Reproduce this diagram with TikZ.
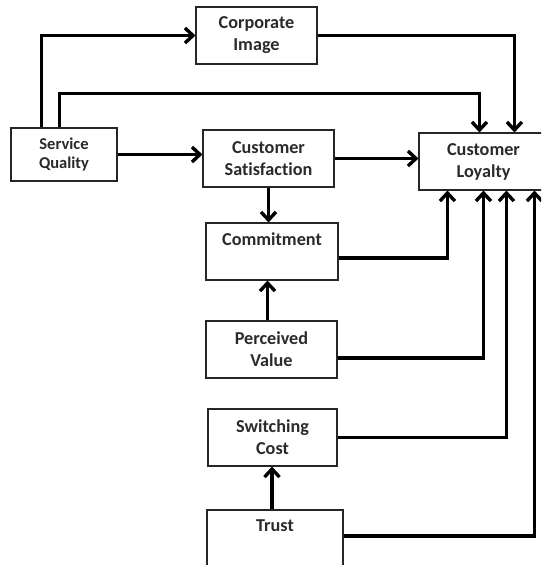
\documentclass[tikz,border=0pt]{standalone}
\usepackage{fontspec}
\setmainfont{Carlito}[Ligatures={NoCommon,NoRare,NoContextual}]
\usetikzlibrary{arrows.meta}
\definecolor{txt}{HTML}{2A2A2A}
\begin{document}
\begin{tikzpicture}[x=1pt,y=-1pt,
  box/.style={draw=black!85,line width=1.1pt,fill=white,inner sep=0pt,
    minimum height=57pt,align=center,text=txt,
    font=\bfseries\fontsize{18.2pt}{22pt}\selectfont},
  smallbox/.style={box,minimum height=53pt,font=\bfseries\fontsize{16.5pt}{19.5pt}\selectfont},
  conn/.style={line width=3.4pt,-{Straight Barb[length=8pt,width=15pt]}}]
\useasboundingbox (0,0) rectangle (541,565);
\clip (0,0) rectangle (541,565);
\fill[white] (0,0) rectangle (541,565);
\node[box,minimum width=121pt] (ci) at (256.5,35.5) {Corporate\\Image};
\node[smallbox,minimum width=106pt] (sq) at (64,154.5) {Service\\Quality};
\node[box,minimum width=131pt] (cs) at (268.5,158.5) {Customer\\Satisfaction};
\node[box,minimum width=129pt] (cl) at (483.5,161.5) {Customer\\Loyalty};
\node[box,minimum width=132pt] (com) at (272,251.5) {Commitment\\\phantom{Ag}};
\node[box,minimum width=131pt] (pv) at (271.5,349.5) {Perceived\\Value};
\node[box,minimum width=129pt] (sc) at (272.5,437.5) {Switching\\Cost};
\node[box,minimum width=136pt] (tr) at (275,538.5) {Trust\\\phantom{Ag}};
% connectors
\draw[conn] ([xshift=31pt]sq.north west) |- (ci.west);
\draw[conn] ([xshift=49pt]sq.north west) -- ++(0,-34) -| ([xshift=61pt]cl.north west);
\draw[conn] (ci.east) -| ([xshift=96pt]cl.north west);
\draw[conn] (sq.east) -- (sq.east -| cs.west);
\draw[conn] (cs.east) -- (cs.east -| cl.west);
\draw[conn] (cs.south) -- (cs.south |- com.north);
\draw[conn] ([xshift=-4pt]pv.north) -- ([xshift=-4pt]pv.north |- com.south);
\draw[conn] ([yshift=-6.5pt]com.east) -| ([xshift=29pt]cl.south west);
\draw[conn] ([yshift=-8.5pt]pv.east) -| ([xshift=65pt]cl.south west);
\draw[conn] (sc.east) -| ([xshift=88pt]cl.south west);
\draw[conn] ([yshift=2.5pt]tr.east) -| ([xshift=116pt]cl.south west);
\draw[conn] ([xshift=-3pt]tr.north) -- ([xshift=-3pt]tr.north |- sc.south);
\end{tikzpicture}
\end{document}
